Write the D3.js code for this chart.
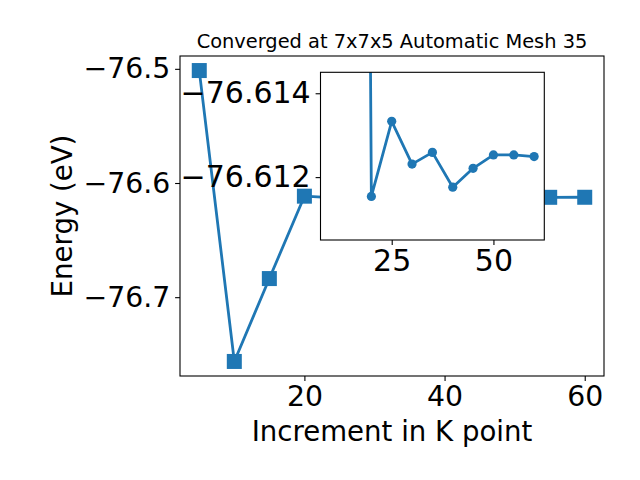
<!DOCTYPE html>
<html><head><meta charset="utf-8">
<script src="https://cdn.jsdelivr.net/npm/d3@7"></script>
<style>body{margin:0;background:#fff} svg{display:block} text{font-family:"DejaVu Sans",sans-serif}</style>
</head><body><svg id="c" width="640" height="480"></svg>
<script>
const kPoints = [5, 10, 15, 20, 25, 30, 35, 40, 45, 50, 55, 60];
const energies = [-76.5015, -76.7563, -76.6837, -76.61154, -76.61333, -76.61231, -76.61259, -76.61176, -76.61221, -76.61253, -76.61253, -76.61249];
const mainXTicks = [20, 40, 60];
const mainYTicks = [-76.5, -76.6, -76.7];
const insetXTicks = [25, 50];
const insetYTicks = [-76.614, -76.612];
const insetXDomain = [7.5, 62.5];
const insetYDomain = [-76.6105, -76.6145]; // bottom, top (inverted axis)
const titleText = "Converged at 7x7x5 Automatic Mesh 35";
const xLabelText = "Increment in K point";
const yLabelText = "Energy (eV)";

const color = "#1f77b4";
const svg = d3.select("#c");
const data = kPoints.map((k, i) => ({k, e: energies[i]}));

const M = {l: 180, r: 604, t: 56, b: 376};
const I = {l: 320.5, r: 544.3, t: 72.3, b: 240};

function padded(ext) { const p = (ext[1] - ext[0]) * 0.05; return [ext[0] - p, ext[1] + p]; }
const x = d3.scaleLinear().domain(padded(d3.extent(kPoints))).range([M.l, M.r]);
const y = d3.scaleLinear().domain(padded(d3.extent(energies))).range([M.b, M.t]);

const fmt1 = d3.format(".1f"), fmt3 = d3.format(".3f");
const TICK = 4.9, PAD = 4.9;
const FS_MAIN = 28.3, FS_INSET = 30, FS_LABEL = 27.6;

// main clip
svg.append("clipPath").attr("id", "mclip").append("rect")
  .attr("x", M.l).attr("y", M.t).attr("width", M.r - M.l).attr("height", M.b - M.t);

const gm = svg.append("g").attr("clip-path", "url(#mclip)");
gm.append("path").datum(data)
  .attr("d", d3.line().x(d => x(d.k)).y(d => y(d.e)))
  .attr("fill", "none").attr("stroke", color).attr("stroke-width", 2.8).attr("stroke-linejoin", "round");
gm.selectAll("rect.m").data(data).join("rect").attr("class", "m")
  .attr("x", d => x(d.k) - 7.5).attr("y", d => y(d.e) - 7.5)
  .attr("width", 15).attr("height", 15).attr("fill", color);

svg.append("rect").attr("x", M.l).attr("y", M.t).attr("width", M.r - M.l).attr("height", M.b - M.t)
  .attr("fill", "none").attr("stroke", "#000").attr("stroke-width", 1.1);

function styleAxis(fs) {
  return g => {
    g.select(".domain").remove();
    g.selectAll(".tick line").attr("stroke", "#000").attr("stroke-width", 1.1);
    g.selectAll(".tick text").attr("font-size", fs).attr("font-family", "DejaVu Sans").attr("fill", "#000");
  };
}

svg.append("g").attr("transform", `translate(0,${M.b})`)
  .call(d3.axisBottom(x).tickValues(mainXTicks).tickFormat(d3.format("d")).tickSize(TICK).tickPadding(PAD).tickSizeOuter(0))
  .call(styleAxis(FS_MAIN));
svg.append("g").attr("transform", `translate(${M.l},0)`)
  .call(d3.axisLeft(y).tickValues(mainYTicks).tickFormat(fmt1).tickSize(TICK).tickPadding(PAD).tickSizeOuter(0))
  .call(styleAxis(FS_MAIN));

svg.append("text").attr("x", (M.l + M.r) / 2).attr("y", 48).attr("text-anchor", "middle")
  .attr("font-size", 19.4).text(titleText);
svg.append("text").attr("x", (M.l + M.r) / 2).attr("y", 440.5).attr("text-anchor", "middle")
  .attr("font-size", FS_LABEL).text(xLabelText);
svg.append("text").attr("transform", `translate(72,${(M.t + M.b) / 2}) rotate(-90)`).attr("text-anchor", "middle")
  .attr("font-size", FS_LABEL).text(yLabelText);

// inset
const xi = d3.scaleLinear().domain(insetXDomain).range([I.l, I.r]);
const yi = d3.scaleLinear().domain(insetYDomain).range([I.b, I.t]);

svg.append("rect").attr("x", I.l).attr("y", I.t).attr("width", I.r - I.l).attr("height", I.b - I.t).attr("fill", "#fff");
svg.append("clipPath").attr("id", "iclip").append("rect")
  .attr("x", I.l).attr("y", I.t).attr("width", I.r - I.l).attr("height", I.b - I.t);
const gi = svg.append("g").attr("clip-path", "url(#iclip)");
gi.append("path").datum(data)
  .attr("d", d3.line().x(d => xi(d.k)).y(d => yi(d.e)))
  .attr("fill", "none").attr("stroke", color).attr("stroke-width", 2.8).attr("stroke-linejoin", "round");
gi.selectAll("circle").data(data).join("circle")
  .attr("cx", d => xi(d.k)).attr("cy", d => yi(d.e)).attr("r", 4.6).attr("fill", color);
svg.append("rect").attr("x", I.l).attr("y", I.t).attr("width", I.r - I.l).attr("height", I.b - I.t)
  .attr("fill", "none").attr("stroke", "#000").attr("stroke-width", 1.1);

svg.append("g").attr("transform", `translate(0,${I.b})`)
  .call(d3.axisBottom(xi).tickValues(insetXTicks).tickFormat(d3.format("d")).tickSize(TICK).tickPadding(PAD).tickSizeOuter(0))
  .call(styleAxis(FS_INSET));
svg.append("g").attr("transform", `translate(${I.l},0)`)
  .call(d3.axisLeft(yi).tickValues(insetYTicks).tickFormat(fmt3).tickSize(TICK).tickPadding(PAD).tickSizeOuter(0))
  .call(styleAxis(FS_INSET));
</script></body></html>
